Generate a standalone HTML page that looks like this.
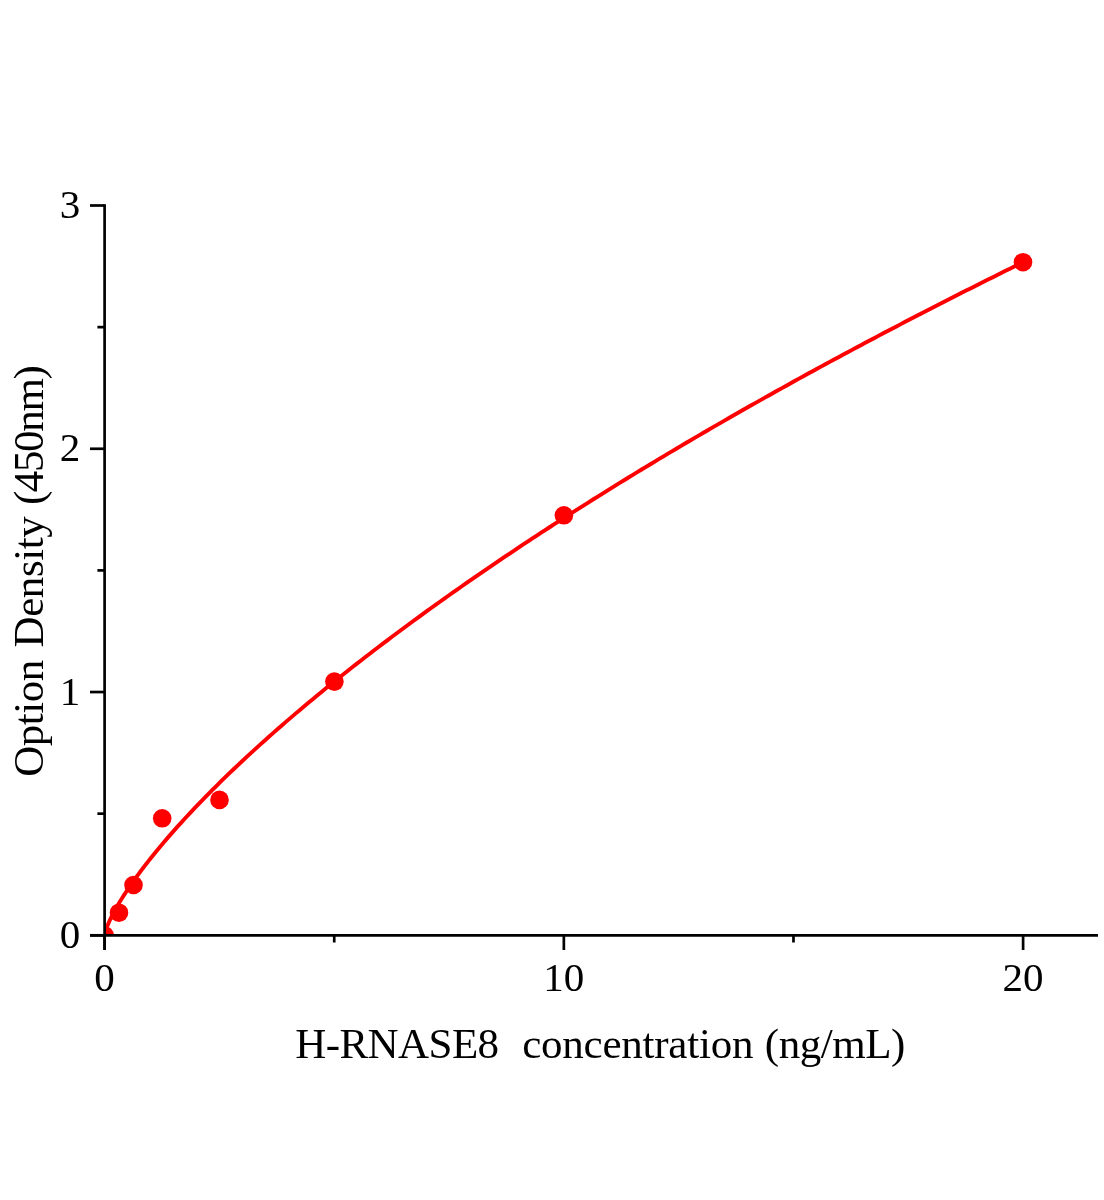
<!DOCTYPE html>
<html><head><meta charset="utf-8"><style>
html,body{margin:0;padding:0;background:#fff;}
svg{display:block;will-change:transform;}
</style></head><body>
<svg width="1104" height="1200" viewBox="0 0 1104 1200" font-family="'Liberation Serif', serif">
<rect width="1104" height="1200" fill="#fff"/>
<defs><clipPath id="plot"><rect x="104.6" y="0" width="999.4" height="935.3"/></clipPath></defs>
<g clip-path="url(#plot)">
<path d="M104.60 935.00 L104.61 934.85 L104.65 934.56 L104.72 934.18 L104.81 933.73 L104.93 933.21 L105.07 932.64 L105.25 932.01 L105.44 931.34 L105.67 930.62 L105.92 929.85 L106.20 929.05 L106.50 928.20 L106.83 927.32 L107.19 926.40 L107.57 925.45 L107.98 924.46 L108.41 923.44 L108.87 922.38 L109.36 921.30 L109.88 920.18 L110.42 919.04 L110.99 917.87 L111.58 916.67 L112.20 915.44 L112.85 914.19 L113.52 912.91 L114.22 911.60 L114.94 910.27 L115.70 908.91 L116.47 907.53 L117.28 906.13 L118.11 904.70 L118.97 903.25 L119.85 901.77 L120.76 900.28 L121.70 898.76 L122.66 897.22 L123.65 895.66 L124.67 894.08 L125.71 892.48 L126.78 890.86 L127.87 889.21 L128.99 887.55 L130.14 885.87 L131.32 884.17 L132.52 882.45 L133.74 880.71 L135.00 878.95 L136.28 877.18 L137.58 875.38 L138.92 873.57 L140.27 871.74 L141.66 869.89 L143.07 868.03 L144.51 866.15 L145.97 864.25 L147.46 862.34 L148.98 860.41 L150.52 858.46 L154.91 853.02 L159.29 847.70 L163.68 842.48 L168.06 837.37 L172.45 832.35 L176.83 827.42 L181.22 822.57 L185.60 817.78 L189.99 813.07 L194.37 808.42 L198.76 803.84 L203.14 799.31 L207.53 794.83 L211.91 790.41 L216.30 786.04 L220.68 781.71 L225.07 777.43 L229.45 773.20 L233.84 769.00 L238.22 764.85 L242.61 760.73 L246.99 756.65 L251.38 752.61 L255.76 748.60 L260.14 744.62 L264.53 740.68 L268.91 736.76 L273.30 732.88 L277.68 729.03 L282.07 725.20 L286.45 721.40 L290.84 717.63 L295.22 713.89 L299.61 710.17 L303.99 706.48 L308.38 702.81 L312.76 699.16 L317.15 695.54 L321.53 691.94 L325.92 688.36 L330.30 684.80 L334.69 681.26 L339.07 677.75 L343.46 674.25 L347.84 670.78 L352.23 667.32 L356.61 663.88 L361.00 660.46 L365.38 657.06 L369.76 653.68 L374.15 650.31 L378.53 646.97 L382.92 643.63 L387.30 640.32 L391.69 637.02 L396.07 633.74 L400.46 630.47 L404.84 627.22 L409.23 623.98 L413.61 620.76 L418.00 617.56 L422.38 614.36 L426.77 611.19 L431.15 608.02 L435.54 604.87 L439.92 601.74 L444.31 598.61 L448.69 595.50 L453.08 592.41 L457.46 589.32 L461.85 586.25 L466.23 583.19 L470.62 580.15 L475.00 577.11 L479.38 574.09 L483.77 571.08 L488.15 568.08 L492.54 565.09 L496.92 562.12 L501.31 559.15 L505.69 556.20 L510.08 553.26 L514.46 550.32 L518.85 547.40 L523.23 544.49 L527.62 541.59 L532.00 538.70 L536.39 535.82 L540.77 532.96 L545.16 530.10 L549.54 527.25 L553.93 524.41 L558.31 521.58 L562.70 518.76 L567.08 515.95 L571.47 513.14 L575.85 510.35 L580.24 507.57 L584.62 504.80 L589.00 502.03 L593.39 499.27 L597.77 496.53 L602.16 493.79 L606.54 491.06 L610.93 488.34 L615.31 485.62 L619.70 482.92 L624.08 480.22 L628.47 477.53 L632.85 474.85 L637.24 472.18 L641.62 469.52 L646.01 466.86 L650.39 464.21 L654.78 461.57 L659.16 458.94 L663.55 456.32 L667.93 453.70 L672.32 451.09 L676.70 448.48 L681.09 445.89 L685.47 443.30 L689.86 440.72 L694.24 438.15 L698.62 435.58 L703.01 433.02 L707.39 430.47 L711.78 427.92 L716.16 425.39 L720.55 422.85 L724.93 420.33 L729.32 417.81 L733.70 415.30 L738.09 412.80 L742.47 410.30 L746.86 407.81 L751.24 405.32 L755.63 402.84 L760.01 400.37 L764.40 397.90 L768.78 395.44 L773.17 392.99 L777.55 390.54 L781.94 388.10 L786.32 385.67 L790.71 383.24 L795.09 380.82 L799.48 378.40 L803.86 375.99 L808.24 373.58 L812.63 371.18 L817.01 368.79 L821.40 366.40 L825.78 364.02 L830.17 361.64 L834.55 359.27 L838.94 356.91 L843.32 354.55 L847.71 352.19 L852.09 349.85 L856.48 347.50 L860.86 345.17 L865.25 342.83 L869.63 340.51 L874.02 338.19 L878.40 335.87 L882.79 333.56 L887.17 331.25 L891.56 328.95 L895.94 326.66 L900.33 324.37 L904.71 322.08 L909.10 319.80 L913.48 317.53 L917.86 315.26 L922.25 312.99 L926.63 310.73 L931.02 308.48 L935.40 306.23 L939.79 303.98 L944.17 301.74 L948.56 299.51 L952.94 297.28 L957.33 295.05 L961.71 292.83 L966.10 290.61 L970.48 288.40 L974.87 286.19 L979.25 283.99 L983.64 281.79 L988.02 279.60 L992.41 277.41 L996.79 275.22 L1001.18 273.04 L1005.56 270.87 L1009.95 268.70 L1014.33 266.53 L1018.72 264.37 L1023.10 262.21" fill="none" stroke="#ff0000" stroke-width="3.9" stroke-linejoin="round"/>
<g fill="#ff0000">
<circle cx="104.6" cy="935.3" r="9.3"/>
<circle cx="119.0" cy="912.7" r="9.3"/>
<circle cx="133.5" cy="885.0" r="9.3"/>
<circle cx="162.2" cy="818.3" r="9.3"/>
<circle cx="219.5" cy="799.9" r="9.3"/>
<circle cx="334.4" cy="681.6" r="9.3"/>
<circle cx="563.9" cy="515.3" r="9.3"/>
<circle cx="1023.0" cy="262.2" r="9.3"/>
</g>
</g>
<g stroke="#000" stroke-width="2.7" stroke-linecap="butt">
<line x1="104.6" y1="204.2" x2="104.6" y2="950"/>
<line x1="90" y1="935.3" x2="1098" y2="935.3"/>
<line x1="90" y1="935.30" x2="104.60" y2="935.30"/>
<line x1="90" y1="692.03" x2="104.60" y2="692.03"/>
<line x1="90" y1="448.77" x2="104.60" y2="448.77"/>
<line x1="90" y1="205.50" x2="104.60" y2="205.50"/>
<line x1="97.4" y1="813.67" x2="104.60" y2="813.67"/>
<line x1="97.4" y1="570.40" x2="104.60" y2="570.40"/>
<line x1="97.4" y1="327.13" x2="104.60" y2="327.13"/>
<line x1="104.60" y1="935.30" x2="104.60" y2="950"/>
<line x1="563.85" y1="935.30" x2="563.85" y2="950"/>
<line x1="1023.10" y1="935.30" x2="1023.10" y2="950"/>
<line x1="334.23" y1="935.30" x2="334.23" y2="942.5"/>
<line x1="793.48" y1="935.30" x2="793.48" y2="942.5"/>
</g>
<g font-size="41" fill="#000">
<text x="80.3" y="948.00" text-anchor="end">0</text>
<text x="80.3" y="704.73" text-anchor="end">1</text>
<text x="80.3" y="461.47" text-anchor="end">2</text>
<text x="80.3" y="218.20" text-anchor="end">3</text>
<text x="104.60" y="991.0" text-anchor="middle">0</text>
<text x="563.85" y="991.0" text-anchor="middle">10</text>
<text x="1023.10" y="991.0" text-anchor="middle">20</text>
</g>
<g font-size="43" fill="#000" font-family="'Liberation Serif', serif">
<text x="295.3" y="1058.4" textLength="203.8" lengthAdjust="spacing">H-RNASE8</text>
<text x="522.2" y="1058.4" textLength="231.2" lengthAdjust="spacing">concentration</text>
<text x="764.8" y="1058.4" textLength="140.5" lengthAdjust="spacing">(ng/mL)</text>
</g>
<g transform="translate(43.3 775.4) rotate(-90)" font-size="43" fill="#000">
<text x="-1.4" y="0" textLength="117" lengthAdjust="spacing">Option</text>
<text x="127.9" y="0" textLength="131.3" lengthAdjust="spacing">Density</text>
<text x="270.3" y="0" textLength="139.9" lengthAdjust="spacing">(450nm)</text>
</g>
</svg>
</body></html>
